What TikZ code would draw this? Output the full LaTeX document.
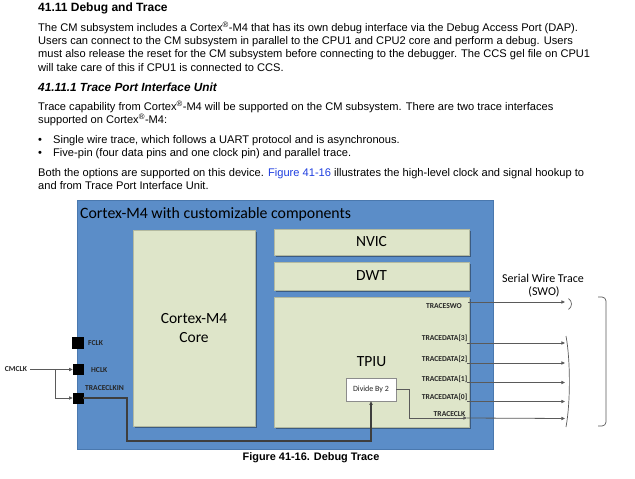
\documentclass[tikz,border=0pt]{standalone}
\usepackage{fontspec}
\setmainfont{Liberation Sans}
\newfontfamily\calib{Carlito}
\usetikzlibrary{arrows.meta,shadows}
\definecolor{cmblue}{HTML}{5B8DC8}
\definecolor{cmblueb}{HTML}{4A78AE}
\definecolor{cmgreen}{HTML}{DEE5C9}
\definecolor{cmgreenb}{HTML}{B4BAA0}
\definecolor{wire}{HTML}{5A5A5A}
\definecolor{darkwire}{HTML}{3E3E3E}
\definecolor{linkblue}{HTML}{1F3FE0}
\tikzset{
  bodytext/.style={anchor=base west, inner sep=0pt, font=\fontsize{11.1}{13}\selectfont},
  headtext/.style={anchor=base west, inner sep=0pt, font=\bfseries\fontsize{12}{14}\selectfont},
  subhead/.style={anchor=base west, inner sep=0pt, font=\bfseries\itshape\fontsize{11.8}{13}\selectfont},
  bluebox/.style={draw=cmblueb, fill=cmblue, line width=0.8pt, inner sep=0pt},
  greenbox/.style={draw=cmgreenb, fill=cmgreen, line width=0.5pt, inner sep=0pt,
    font=\calib\fontsize{15.5}{19}\selectfont, align=center,
    drop shadow={shadow xshift=1.6pt, shadow yshift=-1.6pt, fill=black, opacity=0.35}},
  divbox/.style={draw=black!45, fill=white, line width=0.5pt, inner sep=0pt,
    font=\calib\fontsize{8}{10}\selectfont, text=black!85,
    drop shadow={shadow xshift=1.2pt, shadow yshift=-1.2pt, fill=black, opacity=0.3}},
  pin/.style={fill=black, draw=black, inner sep=0pt, minimum size=#1},
  pinlabel/.style={inner sep=0pt, font=\calib\bfseries\fontsize{7.6}{9}\selectfont, text=black!85},
  wireline/.style={draw=wire, line width=0.8pt},
  wirearrow/.style={draw=wire, line width=0.8pt, -{Triangle[length=3.6pt,width=3.2pt]}},
  thickwire/.style={draw=darkwire, line width=1.4pt},
}
\begin{document}
\begin{tikzpicture}[x=1pt, y=-1pt]
\useasboundingbox (0,0) rectangle (635,479);
\fill[white] (0,0) rectangle (635,479);

% ---- text above the figure ----
\node[headtext] (h1) at (38,11.5) {41.11 Debug and Trace};
\node[bodytext] (p1) at (38,31.5) {The CM subsystem includes a Cortex\textsuperscript{®}-M4 that has its own debug interface via the Debug Access Port (DAP).};
\node[bodytext] (p2) at (38,44.7) {Users can connect to the CM subsystem in parallel to the CPU1 and CPU2 core and perform a debug. Users};
\node[bodytext] (p3) at (38,57.9) {must also release the reset for the CM subsystem before connecting to the debugger. The CCS gel file on CPU1};
\node[bodytext] (p4) at (38,71.1) {will take care of this if CPU1 is connected to CCS.};
\node[subhead] (h2) at (38,91) {41.11.1 Trace Port Interface Unit};
\node[bodytext] (q1) at (38,110.6) {Trace capability from Cortex\textsuperscript{®}-M4 will be supported on the CM subsystem. There are two trace interfaces};
\node[bodytext] (q2) at (38,123.7) {supported on Cortex\textsuperscript{®}-M4:};
\node[bodytext] (b1d) at (38,143.5) {•};
\node[bodytext] (b1) at (53,143.5) {Single wire trace, which follows a UART protocol and is asynchronous.};
\node[bodytext] (b2d) at (38,156.6) {•};
\node[bodytext] (b2) at (53,156.6) {Five-pin (four data pins and one clock pin) and parallel trace.};
\node[bodytext] (r1) at (38,176.5) {Both the options are supported on this device. {\color{linkblue}Figure 41-16} illustrates the high-level clock and signal hookup to};
\node[bodytext] (r2) at (38,189.2) {and from Trace Port Interface Unit.};

% ---- figure ----
\node[bluebox, minimum width=416pt, minimum height=249pt] (cm) at (285,324.5) {};
\node[anchor=base west, inner sep=0pt, font=\calib\fontsize{15.8}{19}\selectfont] (title) at (80,218.5) {Cortex-M4 with customizable components};

\node[greenbox, minimum width=122pt, minimum height=196pt] (core) at (194,328) {Cortex-M4\\Core};
\node[greenbox, minimum width=195pt, minimum height=26pt] (nvic) at (371.5,242) {NVIC};
\node[greenbox, minimum width=195pt, minimum height=28pt] (dwt) at (371.5,276) {DWT};
\node[greenbox, minimum width=195pt, minimum height=130pt] (tpiu) at (371.5,362) {TPIU};
\node[divbox, minimum width=50pt, minimum height=23pt] (div) at (371,389.5) {Divide By 2};

% pins
\node[pin=11pt] (fclk) at (77.5,342.5) {};
\node[pin=10pt] (hclk) at (78,369.5) {};
\node[pin=10pt] (tclkin) at (78,398) {};
\node[pinlabel, anchor=west] (lfclk) at (88,343) {FCLK};
\node[pinlabel, anchor=west] (lhclk) at (91,370.5) {HCLK};
\node[pinlabel, anchor=west] (ltclkin) at (85,388) {TRACECLKIN};

\node[pinlabel, inner sep=3pt] (cmclk) at (16,369.5) {CMCLK};
\coordinate (branch) at (55,369.5);
\draw[wirearrow] (cmclk.east) -- (hclk.west);
\draw[wirearrow] (branch) |- (tclkin.west);

% TRACECLKIN to divider
\coordinate (bend1) at (127,441);
\draw[thickwire, -{Triangle[length=3.6pt,width=3.2pt]}] (tclkin.east) -| (bend1) -| (div.south);

% output labels
\node[pinlabel, anchor=base east] (lswo) at (462,308.2) {TRACESWO};
\node[pinlabel, anchor=base east] (ld3) at (467.5,340.7) {TRACEDATA[3]};
\node[pinlabel, anchor=base east] (ld2) at (467.5,361.7) {TRACEDATA[2]};
\node[pinlabel, anchor=base east] (ld1) at (467.5,381.2) {TRACEDATA[1]};
\node[pinlabel, anchor=base east] (ld0) at (467.5,399.7) {TRACEDATA[0]};
\node[pinlabel, anchor=base east] (lclk) at (465.5,416.7) {TRACECLK};

% divider to TRACECLK
\coordinate (clkpin) at (467,418);
\draw[wirearrow] (div.east) -- ++(13,0) |- (clkpin);

% output wires
\coordinate (swoS) at (468,302);   \coordinate (swoE) at (565,302);
\coordinate (d3S) at (467,343);    \coordinate (d3E) at (565,343);
\coordinate (d2S) at (467,363);    \coordinate (d2E) at (565,363);
\coordinate (d1S) at (467,382.5);  \coordinate (d1E) at (565,382.5);
\coordinate (d0S) at (467,401.5);  \coordinate (d0E) at (565,401.5);
\coordinate (ckE) at (565,418.5);
\draw[wirearrow] (swoS) -- (swoE);
\draw[wirearrow] (d3S) -- (d3E);
\draw[wirearrow] (d2S) -- (d2E);
\draw[wirearrow] (d1S) -- (d1E);
\draw[wirearrow] (d0S) -- (d0E);
\draw[wirearrow] (clkpin) -- (ckE);

% brackets
\draw[wireline, line width=0.7pt] (568.5,298.5) .. controls (572.5,301.5) and (572.5,306.5) .. (568.5,309.5);
\draw[wireline, line width=0.7pt] (566,336) .. controls (570.5,360) and (570.5,403) .. (566,427);
\draw[wireline, line width=0.7pt, rounded corners=4pt] (598,297) -- (606,297) -- (606,426) -- (598,426);

\node[inner sep=0pt, font=\calib\fontsize{12}{14}\selectfont] (swt) at (543,278) {Serial Wire Trace};
\node[inner sep=0pt, font=\calib\fontsize{12}{14}\selectfont] (swo) at (544,292) {(SWO)};

% caption
\node[anchor=base, inner sep=0pt, font=\bfseries\fontsize{10.9}{13}\selectfont] (cap) at (311,460) {Figure 41-16. Debug Trace};
\end{tikzpicture}
\end{document}
